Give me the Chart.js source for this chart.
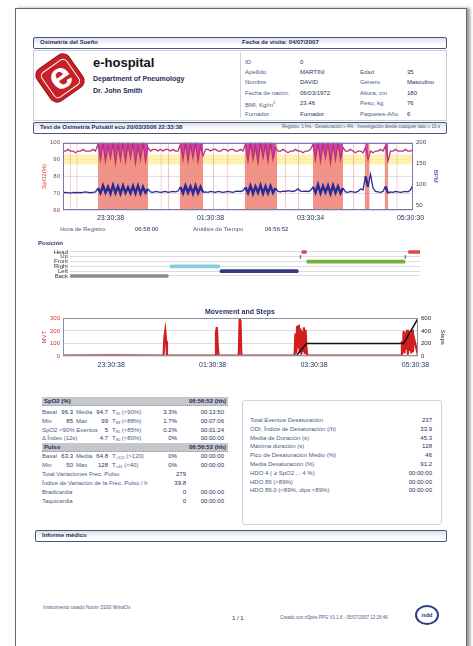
<!DOCTYPE html>
<html>
<head>
<meta charset="utf-8">
<script src="https://cdn.jsdelivr.net/npm/chart.js@4.4.1/dist/chart.umd.min.js"></script>
<style>
body{margin:0;width:473px;height:646px;overflow:hidden;background:#fff;font-family:"Liberation Sans",Arial,sans-serif;color:#1f2d5c;position:relative}
.page{position:absolute;left:15px;top:8px;width:450px;height:660px;border:1px solid #666;box-shadow:3px 0 3px #999}
.abs{position:absolute;white-space:nowrap;font-size:6px;line-height:8px}
.bar{position:absolute;left:33px;width:412px;height:10px;border:1px solid #4a5378;border-radius:2px;background:linear-gradient(#dde0ea,#fff 70%)}
.b{font-weight:bold}
.lab{color:#4a5a85}
.hdr{position:absolute;left:42px;width:186px;height:8px;background:#c6c7cc;border-bottom:1px dotted #999}
canvas{position:absolute}
sub{font-size:4px;vertical-align:-1px}
</style>
</head>
<body>
<div class="page"></div>
<div class="bar" style="top:37px"></div>
<div style="position:absolute;left:33px;top:50px;width:412px;height:69px;border:1px solid #c8cad6"></div>
<div style="position:absolute;left:240px;top:52px;width:1px;height:66px;background:#d0d2dc"></div>
<div class="bar" style="top:122px"></div>
<div style="position:absolute;left:41px;top:59px;width:38px;height:38px;background:#c62129;border-radius:7px;transform:rotate(-35deg);box-shadow:0 0 0 1px #a01018"></div>
<div style="position:absolute;left:45px;top:63px;width:29px;height:29px;border:1.5px solid #fff;border-radius:5px;transform:rotate(-35deg)"></div>
<div class="abs b" style="left:49px;top:56px;font-size:38px;line-height:40px;color:#fff;transform:rotate(-35deg)">e</div>
<div style="position:absolute;left:242px;top:400px;width:198px;height:123px;border:1px solid #cfd1dc;border-radius:3px"></div>
<div class="bar" style="top:530px;left:35px;width:410px"></div>
<div style="position:absolute;left:415px;top:605px;width:20px;height:16px;border:2px solid #2a3a8a;border-radius:50%;font:bold 6px 'Liberation Sans';line-height:16px;text-align:center;color:#2a3a8a">ndd</div>

<canvas id="oxi" width="414" height="88" style="left:33px;top:136px"></canvas>
<canvas id="pos" width="414" height="40" style="left:33px;top:244px"></canvas>
<canvas id="mov" width="414" height="65" style="left:33px;top:305px"></canvas>

<script>
// SpO2 and pulse, one reading every 3 minutes from 22:33:38
const sampleStepMin = 3;
const spo2 = [95,95,96,95,95,94,95,95,96,95,95,95,96,95,
  99,90,100,89,98,91,100,88,99,90,100,89,99,91,100,88,98,90,100,89,97,
  95,96,96,95,96,95,96,96,95,96,95,95,
  99,90,100,89,99,91,100,89,98,92,
  96,96,95,96,96,95,95,96,96,95,96,96,95,95,96,95,
  99,89,100,90,98,88,100,91,99,89,100,90,97,
  95,95,96,95,94,95,95,96,95,95,94,95,95,96,
  99,90,100,89,99,91,100,88,99,90,100,90,97,
  95,95,96,95,94,95,95,94,
  97,90,
  95,94,95,95,96,95,
  98,89,
  95,95,96,95,95,95,96,95,95,96];
const pulse = [81,82,81,80,82,81,82,81,82,83,82,81,82,83,
  92,80,98,81,95,79,99,80,96,79,98,81,94,80,97,80,98,79,95,81,90,
  83,82,84,83,82,83,84,82,83,84,83,85,
  95,80,98,81,96,79,98,80,95,82,
  83,82,84,83,82,84,83,82,83,84,83,82,84,85,84,86,
  94,80,98,79,96,81,99,79,96,80,97,81,92,
  84,83,85,84,86,85,84,86,90,85,84,85,84,86,
  95,81,100,80,97,82,98,79,99,81,96,80,92,
  83,82,84,83,82,84,90,88,
  120,95,
  125,92,84,83,82,84,
  96,80,
  83,82,84,83,82,83,84,83,88,100];
const desatEvents = [[42,102],[140,168],[218,257],[300,336],[362,368],[386,390]];
const minorEvents = [[8,9.5],[16,17.5],[117,118.5],[126,127.5],[180,181.5],[197,198.5],[266,267.5],[282,283.5],[348,349.5],[400,401.5]];
const spo2Band = [87, 93];
const timeTicks = [57, 177, 297, 417];
const oxiTickLabels = ['23:30:38', '01:30:38', '03:30:34', '05:30:30'];
const pulseTicks = [50, 100, 150, 200];

// body position
const positionLabels = ['Head', 'Up', 'Front', 'Right', 'Left', 'Back'];
const positionRows  = ['Back', 'Right', 'Left', 'Up', 'Head', 'Front', 'Up', 'Head'];
const positionStart = [0, 120, 180, 276, 278, 284, 402, 406];
const positionEnd   = [118, 180, 274, 277, 284, 402, 403, 420];

// movement and cumulative steps
const moveMinutes = [0,60,119,120,121,122,123,180,181,182,183,184,208,209,210,211,
  274,275,276,277,278,279,280,281,282,283,284,285,286,287,288,289,
  400,401,402,403,404,405,406,407,408,409,410,411,412,413,414,415,420];
const moveValues = [4,6,3,150,200,120,4,3,180,230,90,4,3,300,280,3,
  5,180,20,240,60,250,30,220,10,200,40,230,15,210,60,5,
  4,120,30,200,20,190,50,210,10,200,40,180,20,210,30,150,5];
const stepsMinutes = [0, 276, 288, 403, 420];
const stepsValues = [0, 0, 200, 200, 600];
const moveTickLabels = ['23:30:38', '01:30:38', '03:30:38', '05:30:38'];

const posColors = {Head: '#e04848', Up: '#777', Front: '#79b03a', Right: '#86cfe3', Left: '#363c82', Back: '#8c8c8c'};

const framePlugin = {
  id: 'frame',
  afterDatasetsDraw(chart, args, opts) {
    const {ctx, chartArea: a} = chart;
    ctx.save();
    ctx.strokeStyle = opts.color || '#888';
    ctx.lineWidth = 1;
    ctx.strokeRect(Math.round(a.left) + 0.5, Math.round(a.top) + 0.5, Math.round(a.width) - 1, Math.round(a.height) - 1);
    ctx.restore();
  }
};

function bandPoints(bands, top) {
  const pts = [];
  bands.forEach(([s, e]) => pts.push({x: s, y: top}, {x: e, y: top}, {x: e, y: null}));
  return pts;
}
const inEvent = t => desatEvents.some(([s, e]) => t >= s && t <= e);

const sampleMinutes = spo2.map((_, i) => i * sampleStepMin);
const noPoint = {pointRadius: 0, tension: 0};

new Chart(document.getElementById('oxi'), {
  type: 'line',
  data: {
    datasets: [
      {data: sampleMinutes.map((x, i) => ({x, y: pulse[i]})), yAxisID: 'yp', borderColor: '#2b2b98', borderWidth: 1.3,
        segment: {borderWidth: c => inEvent(c.p0.parsed.x) && inEvent(c.p1.parsed.x) ? 2.4 : 1.3}, ...noPoint},
      {data: sampleMinutes.map((x, i) => ({x, y: spo2[i]})), yAxisID: 'y', borderColor: '#b8307a', borderWidth: 1.3, ...noPoint},
      {data: sampleMinutes.map((x, i) => ({x, y: inEvent(x) ? spo2[i] : null})), yAxisID: 'y', borderWidth: 0,
        fill: 'end', backgroundColor: 'rgba(200,62,168,0.9)', ...noPoint},
      {data: bandPoints(desatEvents, 100), yAxisID: 'y', borderWidth: 0, fill: 'start', backgroundColor: 'rgba(240,128,118,0.85)', ...noPoint},
      {data: bandPoints(minorEvents, 100), yAxisID: 'y', borderWidth: 0, fill: 'start', backgroundColor: 'rgba(240,140,140,0.5)', ...noPoint},
      {data: [{x: 0, y: spo2Band[1]}, {x: 420, y: spo2Band[1]}], yAxisID: 'y', borderWidth: 0, fill: {value: spo2Band[0]}, backgroundColor: 'rgba(255,238,150,0.75)', ...noPoint}
    ]
  },
  options: {
    responsive: false, animation: false,
    layout: {padding: {top: 6}},
    plugins: {legend: {display: false}, tooltip: {enabled: false}, frame: {color: '#7a78a8'}},
    scales: {
      x: {type: 'linear', min: 0, max: 420,
        afterBuildTicks: s => { s.ticks = timeTicks.map(v => ({value: v})); },
        ticks: {callback: (v, i) => oxiTickLabels[i], font: {size: 7}, color: '#1f2d5c', padding: 4, maxRotation: 0, autoSkip: false},
        grid: {display: false, drawTicks: false}, border: {display: false},
        afterFit: s => { s.height = 14; }},
      y: {position: 'left', min: 60, max: 100,
        ticks: {stepSize: 10, font: {size: 6}, color: '#8a4050', padding: 3},
        grid: {color: 'rgba(190,190,215,0.5)', drawTicks: false}, border: {display: false},
        title: {display: true, text: 'SpO2(%)', color: '#d03030', font: {size: 6}, padding: {top: 8}},
        afterFit: s => { s.width = 30; }},
      yp: {position: 'right', min: 40, max: 200,
        afterBuildTicks: s => { s.ticks = pulseTicks.map(v => ({value: v})); },
        ticks: {font: {size: 6}, color: '#444', padding: 3},
        grid: {display: false, drawTicks: false}, border: {display: false},
        title: {display: true, text: 'BPM', color: '#2b2b98', font: {size: 6}, padding: {top: 8}},
        afterFit: s => { s.width = 34; }}
    }
  },
  plugins: [framePlugin]
});

new Chart(document.getElementById('pos'), {
  type: 'bar',
  data: {
    labels: positionLabels,
    datasets: [{
      data: positionRows.map((r, i) => ({y: r, x: [positionStart[i], positionEnd[i]]})),
      backgroundColor: positionRows.map(r => posColors[r]),
      barThickness: 3, borderRadius: 1.5, borderSkipped: false, grouped: false
    }]
  },
  options: {
    indexAxis: 'y', responsive: false, animation: false,
    layout: {padding: {top: 3, bottom: 3, right: 27}},
    plugins: {legend: {display: false}, tooltip: {enabled: false}},
    scales: {
      x: {type: 'linear', min: 0, max: 420, display: false},
      y: {ticks: {autoSkip: false, font: {size: 6}, color: '#333', padding: 2},
        grid: {offset: false, color: '#dcdcdc', drawTicks: false}, border: {display: false},
        afterFit: s => { s.width = 37; }}
    }
  }
});

new Chart(document.getElementById('mov'), {
  type: 'line',
  data: {
    datasets: [
      {data: stepsMinutes.map((x, i) => ({x, y: stepsValues[i]})), yAxisID: 'ys', borderColor: '#111', borderWidth: 1.5, ...noPoint},
      {data: moveMinutes.map((x, i) => ({x, y: moveValues[i]})), yAxisID: 'y', borderColor: '#d21e1e', borderWidth: 2.2, ...noPoint}
    ]
  },
  options: {
    responsive: false, animation: false,
    plugins: {legend: {display: false}, tooltip: {enabled: false}, frame: {color: '#8890a8'},
      title: {display: true, text: 'Movement and Steps', color: '#1f2d5c', font: {size: 7, weight: 'bold'}, padding: {top: 3, bottom: 2}}},
    scales: {
      x: {type: 'linear', min: 0, max: 420,
        afterBuildTicks: s => { s.ticks = timeTicks.map(v => ({value: v})); },
        ticks: {callback: (v, i) => moveTickLabels[i], font: {size: 7}, color: '#1f2d5c', padding: 5, maxRotation: 0, autoSkip: false},
        grid: {display: false, drawTicks: false}, border: {display: false},
        afterFit: s => { s.height = 14; }},
      y: {position: 'left', min: 0, max: 300,
        ticks: {stepSize: 100, font: {size: 6}, color: '#d03030', padding: 3},
        grid: {color: '#dedede', drawTicks: false}, border: {display: false},
        title: {display: true, text: 'MVT', color: '#d03030', font: {size: 6}, padding: {top: 8}},
        afterFit: s => { s.width = 30; }},
      ys: {position: 'right', min: 0, max: 600,
        ticks: {stepSize: 200, font: {size: 6}, color: '#222', padding: 3},
        grid: {display: false, drawTicks: false}, border: {display: false},
        title: {display: true, text: 'Steps', color: '#222', font: {size: 6}, padding: {top: 1}},
        afterFit: s => { s.width = 29; }}
    }
  },
  plugins: [framePlugin]
});

// report text
function put(s, x, y, cls, right) {
  const d = document.createElement('div');
  d.className = 'abs' + (cls ? ' ' + cls : '');
  d.innerHTML = s;
  d.style.top = (y - 4) + 'px';
  if (right) d.style.right = (473 - x) + 'px'; else d.style.left = x + 'px';
  document.body.appendChild(d);
}

put('Oximetría del Sueño', 40, 42, 'b');
put('Fecha de visita: 04/07/2007', 242, 42, 'b');
put('e-hospital', 93, 64, 'b');
document.body.lastChild.style.cssText += 'font-size:13px;line-height:14px;top:56px;color:#111';
put('Department of Pneumology', 93, 79, 'b');
document.body.lastChild.style.fontSize = '7px';
put('Dr. John Smith', 93, 91, 'b');
document.body.lastChild.style.fontSize = '7px';

const infoRows = [
  ['ID', '0', '', ''],
  ['Apellido', 'MARTINI', 'Edad', '35'],
  ['Nombre', 'DAVID', 'Género', 'Masculino'],
  ['Fecha de nacim.', '06/03/1972', 'Altura, cm', '180'],
  ['BMI, Kg/m<sup style="font-size:4px">2</sup>', '23.46', 'Peso, kg', '76'],
  ['Fumador', 'Fumador', 'Paquetes-Año', '6']
];
const infoY = [62, 72, 82, 93, 103, 114];
infoRows.forEach((r, i) => {
  put(r[0], 245, infoY[i], 'lab');
  put(r[1], 300, infoY[i]);
  put(r[2], 360, infoY[i], 'lab');
  put(r[3], 407, infoY[i]);
});

put('Test de Oximetría Pulsátil ecu 20/03/2006 22:33:38', 40, 127, 'b');
put('Registro: 1 hrs · Desaturación ≥ 4% · Investigación desde cualquier dato ≥ 10 s', 440, 127, 'lab', true);
document.body.lastChild.style.fontSize = '4.5px';

put('Hora de Registro', 60, 229, 'lab');
put('06:58:00', 135, 229);
put('Análisis de Tiempo', 193, 229, 'lab');
put('06:56:52', 265, 229);
put('Posición', 38, 243, 'b');

// left table
[[397, 'SpO2 (%)'], [443, 'Pulso']].forEach(([y, t]) => {
  const h = document.createElement('div');
  h.className = 'hdr'; h.style.top = y + 'px';
  document.body.appendChild(h);
  put(t, 44, y + 4, 'b');
  put('06:56:52 (hh)', 226, y + 4, 'b', true);
});
const statRows = [
  [412, 'Basal', '96.3', 'Media', '94.7', 'T<sub>90</sub> (&lt;90%)', '3.3%', '00:13:50'],
  [421, 'Min', '85', 'Max', '99', 'T<sub>88</sub> (&lt;88%)', '1.7%', '00:07:06'],
  [429.5, 'SpO2 &lt;90% Eventos', '', '', '5', 'T<sub>85</sub> (&lt;85%)', '0.2%', '00:01:24'],
  [438, 'Δ Índex (12s)', '', '', '4.7', 'T<sub>80</sub> (&lt;80%)', '0%', '00:00:00'],
  [456, 'Basal', '63.3', 'Media', '64.8', 'T<sub>&gt;120</sub> (&gt;120)', '0%', '00:00:00'],
  [465, 'Min', '50', 'Max', '128', 'T<sub>&lt;40</sub> (&lt;40)', '0%', '00:00:00']
];
statRows.forEach(r => {
  put(r[1], 42, r[0], 'lab');
  if (r[2]) put(r[2], 73, r[0], '', true);
  if (r[3]) put(r[3], 76, r[0], 'lab');
  put(r[4], 108, r[0], '', true);
  put(r[5], 112, r[0], 'lab');
  put(r[6], 177, r[0], '', true);
  put(r[7], 224, r[0], '', true);
});
const pulseRows = [
  [474, 'Total Variaciones Frec. Pulso', '279', ''],
  [483, 'Índice de Variación de la Frec. Pulso / h', '39.8', ''],
  [492, 'Bradicardia', '0', '00:00:00'],
  [501, 'Taquicardia', '0', '00:00:00']
];
pulseRows.forEach(r => {
  put(r[1], 42, r[0], 'lab');
  put(r[2], 186, r[0], '', true);
  if (r[3]) put(r[3], 224, r[0], '', true);
});

// right box
const desatRows = [
  ['Total Eventos Desaturación', '237'],
  ['ODI, Índice de Desaturación (/h)', '33.9'],
  ['Media de Duración (s)', '45.3'],
  ['Máxima duración (s)', '128'],
  ['Pico de Desaturación Medio (%)', '46'],
  ['Media Desaturación (%)', '91.2'],
  ['HDO 4 ( ≥ SpO2 ... 4 %)', '00:00:00'],
  ['HDO 89 (&lt;89%)', '00:00:00'],
  ['HDO 89.0 (&lt;89%, dips &lt;89%)', '00:00:00']
];
desatRows.forEach((r, i) => {
  const y = 420 + i * 8.8;
  put(r[0], 250, y, 'lab');
  put(r[1], 432, y, '', true);
});

put('Informe médico', 42, 535, 'b');
put('Instrumento usado Nonin 3100 WristOx', 43, 607, 'lab');
document.body.lastChild.style.fontSize = '5px';
put('1 / 1', 232, 618);
put('Creado con nSpire PPG V1.1.6 - 05/07/2007 12:26:46', 280, 618, 'lab');
document.body.lastChild.style.fontSize = '4.5px';
</script>
</body>
</html>
